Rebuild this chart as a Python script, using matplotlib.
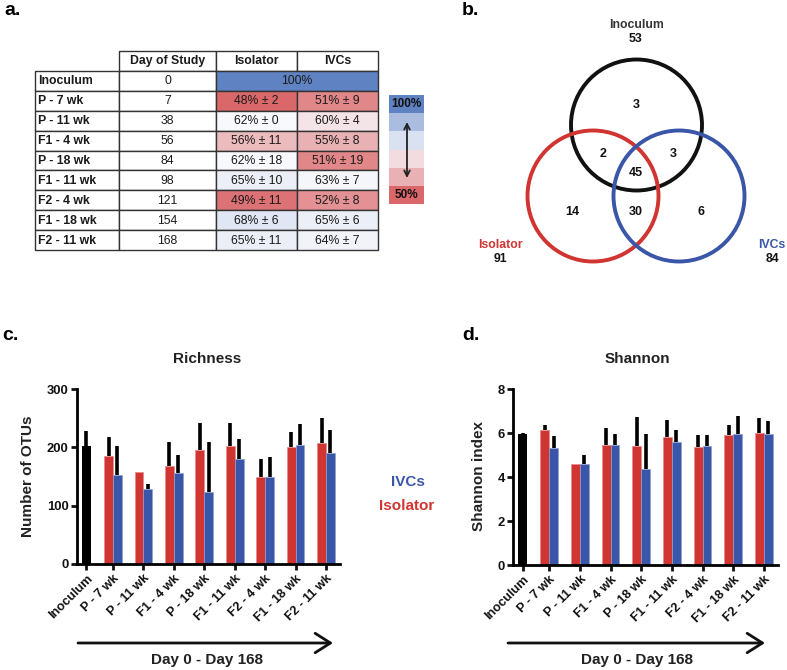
import numpy as np
import matplotlib
matplotlib.use("Agg")
import matplotlib.pyplot as plt
from matplotlib.colors import LinearSegmentedColormap, TwoSlopeNorm
from matplotlib.patches import Rectangle, Circle

plt.rcParams['font.family'] = ['Liberation Sans', 'DejaVu Sans']

# ---- data ----
stages = ["Inoculum", "P - 7 wk", "P - 11 wk", "F1 - 4 wk", "P - 18 wk",
          "F1 - 11 wk", "F2 - 4 wk", "F1 - 18 wk", "F2 - 11 wk"]
days = [0, 7, 38, 56, 84, 98, 121, 154, 168]

# table a: % of inoculum OTUs retained
inoc_pct = 100
iso_pct = [48, 62, 56, 62, 65, 49, 68, 65]
iso_pct_sd = [2, 0, 11, 18, 10, 11, 6, 11]
ivc_pct = [51, 60, 55, 51, 63, 52, 65, 64]
ivc_pct_sd = [9, 4, 8, 19, 7, 8, 6, 7]

# venn b: region counts
venn_groups = ["Inoculum", "Isolator", "IVCs"]
venn_only_inoc = 3
venn_inoc_iso = 2
venn_inoc_ivc = 3
venn_all = 45
venn_only_iso = 14
venn_iso_ivc = 30
venn_only_ivc = 6

# c: richness (mean, upper error)
inoc_rich, inoc_rich_err = 202, 26
iso_rich = [186, 158, 168, 195, 203, 149, 201, 207]
iso_rich_err = [32, 0, 42, 47, 39, 31, 26, 43]
ivc_rich = [152, 129, 156, 123, 180, 150, 204, 191]
ivc_rich_err = [51, 8, 31, 86, 34, 33, 36, 38]

# d: shannon
inoc_shan, inoc_shan_err = 5.97, 0.03
iso_shan = [6.15, 4.60, 5.46, 5.43, 5.83, 5.35, 5.93, 6.02]
iso_shan_err = [0.22, 0.0, 0.77, 1.32, 0.75, 0.57, 0.42, 0.68]
ivc_shan = [5.30, 4.57, 5.46, 4.36, 5.59, 5.39, 5.95, 5.97]
ivc_shan_err = [0.56, 0.45, 0.48, 1.59, 0.55, 0.53, 0.84, 0.56]

RED = "#d03532"
BLUE = "#3a56a8"

W, H = 787, 670
fig = plt.figure(figsize=(W / 100, H / 100), dpi=100)


def box(l, t, r, b):
    # pixel box -> figure fraction
    return [l / W, 1 - b / H, (r - l) / W, (b - t) / H]


ov = fig.add_axes([0, 0, 1, 1])
ov.set_xlim(0, W)
ov.set_ylim(H, 0)
ov.axis("off")

# ---- a. table ----
cmap = LinearSegmentedColormap.from_list("rwb", ["#da686b", "#f9f9fc", "#5f82c2"])
all_pct = np.array(iso_pct + ivc_pct + [inoc_pct])
norm = TwoSlopeNorm(vmin=all_pct.min(), vcenter=np.median(all_pct), vmax=all_pct.max())

col_edges = [35, 119, 216, 297, 378]
top, row_h = 51, 19.9
edge = "#333333"


def cell(c0, c1, r, text, color="white", bold=False, left=False):
    x0, x1 = col_edges[c0], col_edges[c1]
    y0 = top + r * row_h
    ov.add_patch(Rectangle((x0, y0), x1 - x0, row_h, facecolor=color,
                           edgecolor=edge, lw=1))
    tx = x0 + 3 if left else (x0 + x1) / 2
    ov.text(tx, y0 + row_h / 2 + 0.5, text, ha="left" if left else "center",
            va="center", fontsize=8.8, fontweight="bold" if bold else "normal",
            color="#1a1a1a")


cell(1, 2, 0, "Day of Study", bold=True)
cell(2, 3, 0, "Isolator", bold=True)
cell(3, 4, 0, "IVCs", bold=True)
for i, (st, d) in enumerate(zip(stages, days)):
    r = i + 1
    cell(0, 1, r, st, bold=True, left=True)
    cell(1, 2, r, str(d))
    if i == 0:
        cell(2, 4, r, f"{inoc_pct}%", color=cmap(norm(inoc_pct)))
    else:
        cell(2, 3, r, f"{iso_pct[i-1]}% \u00b1 {iso_pct_sd[i-1]}",
             color=cmap(norm(iso_pct[i-1])))
        cell(3, 4, r, f"{ivc_pct[i-1]}% \u00b1 {ivc_pct_sd[i-1]}",
             color=cmap(norm(ivc_pct[i-1])))

# colour key
key_levels = [1.0, 0.75, 0.6, 0.4, 0.25, 0.0]
kx0, kx1, ky0, ky1 = 389, 424, 95, 204
kh = (ky1 - ky0) / len(key_levels)
for j, lv in enumerate(key_levels):
    ov.add_patch(Rectangle((kx0, ky0 + j * kh), kx1 - kx0, kh,
                           facecolor=cmap(lv), edgecolor="none"))
ov.text((kx0 + kx1) / 2, ky0 + kh / 2, "100%", ha="center", va="center",
        fontsize=8.5, fontweight="bold", color="#111111")
ov.text((kx0 + kx1) / 2, ky1 - kh / 2, "50%", ha="center", va="center",
        fontsize=8.5, fontweight="bold", color="#111111")
ov.annotate("", xy=(407, 122), xytext=(407, 178),
            arrowprops=dict(arrowstyle="<->", lw=1.3, color="#222222",
                            shrinkA=0, shrinkB=0))

# ---- b. venn ----
r_c = 65.5
centers = [(636.5, 125), (593, 196), (679, 196)]
for (cx, cy), col in zip(centers, ["#111111", RED, BLUE]):
    ov.add_patch(Circle((cx, cy), r_c, fill=False, edgecolor=col, lw=2.8))
venn_counts = [venn_only_inoc, venn_inoc_iso, venn_inoc_ivc, venn_all,
               venn_only_iso, venn_iso_ivc, venn_only_ivc]
venn_pos = [(636, 105), (603, 154), (673, 154), (636, 173),
            (572, 212), (636, 212), (701, 212)]
for n, (x, y) in zip(venn_counts, venn_pos):
    ov.text(x, y, str(n), ha="center", va="center", fontsize=9,
            fontweight="bold", color="#111111")
tot_inoc = venn_only_inoc + venn_inoc_iso + venn_inoc_ivc + venn_all
tot_iso = venn_only_iso + venn_inoc_iso + venn_iso_ivc + venn_all
tot_ivc = venn_only_ivc + venn_inoc_ivc + venn_iso_ivc + venn_all
for name, tot, (x, y), col in zip(venn_groups, [tot_inoc, tot_iso, tot_ivc],
                                  [(636, 25), (500, 245), (772, 245)],
                                  ["#333333", RED, BLUE]):
    ov.text(x, y, name, ha="center", va="center", fontsize=8.8,
            fontweight="bold", color=col)
    ov.text(x, y + 14.5, str(tot), ha="center", va="center", fontsize=8.8,
            fontweight="bold", color="#111111")


# ---- c./d. bar charts ----
def bars(rect, inoc, inoc_err, iso, iso_err, ivc, ivc_err, ymax, yticks):
    ax = fig.add_axes(rect)
    pos = np.arange(1, len(iso) + 1)
    bw = 0.29
    ax.bar([0.13], [inoc], width=0.27, color="black", zorder=2)
    ax.bar(pos - bw / 2, iso, width=bw, color=RED, edgecolor="#e58a88",
           lw=0.5, zorder=2)
    ax.bar(pos + bw / 2, ivc, width=bw, color=BLUE, edgecolor="#8ea0d0",
           lw=0.5, zorder=2)
    ekw = dict(fmt="none", ecolor="black", elinewidth=2.6, capsize=0, zorder=3)
    ax.errorbar([0.13], [inoc], yerr=[[0], [inoc_err]], **ekw)
    ax.errorbar(pos - bw / 2, iso, yerr=[np.zeros(len(iso)), iso_err], **ekw)
    ax.errorbar(pos + bw / 2, ivc, yerr=[np.zeros(len(ivc)), ivc_err], **ekw)
    ax.set_xlim(-0.18, 8.46)
    ax.set_ylim(0, ymax)
    ax.set_yticks(yticks)
    ax.set_xticks(np.r_[0.13, pos])
    ax.set_xticklabels(stages, rotation=45, ha="right", va="top",
                       rotation_mode="anchor", fontweight="bold", fontsize=9.2,
                       color="#1a1a1a")
    for lab in ax.get_yticklabels():
        lab.set_fontweight("bold")
        lab.set_fontsize(9.4)
        lab.set_color("#1a1a1a")
    for s in ["top", "right"]:
        ax.spines[s].set_visible(False)
    for s in ["left", "bottom"]:
        ax.spines[s].set_linewidth(2)
    ax.tick_params(width=2, length=4, pad=2, colors="#111111")
    ax.tick_params(axis="x", pad=2)
    ax.patch.set_alpha(0)
    return ax


bars(box(77, 389, 340, 564), inoc_rich, inoc_rich_err, iso_rich, iso_rich_err,
     ivc_rich, ivc_rich_err, 300, [0, 100, 200, 300])
bars(box(513, 389, 778, 565), inoc_shan, inoc_shan_err, iso_shan, iso_shan_err,
     ivc_shan, ivc_shan_err, 8, [0, 2, 4, 6, 8])

for x, t in [(207, "Richness"), (637, "Shannon")]:
    ov.text(x, 359, t, ha="center", va="center", fontsize=11,
            fontweight="bold", color="#222222")
ov.text(28, 476, "Number of OTUs", rotation=90, ha="center", va="center",
        fontsize=11, fontweight="bold", color="#222222")
ov.text(479, 476, "Shannon index", rotation=90, ha="center", va="center",
        fontsize=11, fontweight="bold", color="#222222")
ov.text(408, 482, "IVCs", ha="center", va="center", fontsize=11,
        fontweight="bold", color=BLUE)
ov.text(407, 506, "Isolator", ha="center", va="center", fontsize=11,
        fontweight="bold", color=RED)

for x0, x1, xc in [(78, 333, 207), (508, 765, 637)]:
    ov.annotate("", xy=(x1, 643), xytext=(x0, 643),
                arrowprops=dict(arrowstyle="->,head_length=0.55,head_width=0.35",
                                lw=2, color="#111111", shrinkA=0, shrinkB=0,
                                mutation_scale=20))
    ov.text(xc, 660, "Day 0 - Day 168", ha="center", va="center",
            fontsize=11, fontweight="bold", color="#222222")

for x, y, t in [(4, 15, "a."), (462, 15, "b."), (2, 340, "c."), (462, 340, "d.")]:
    ov.text(x, y, t, ha="left", va="baseline", fontsize=14, fontweight="bold")

fig.savefig("out.png", dpi=100)
